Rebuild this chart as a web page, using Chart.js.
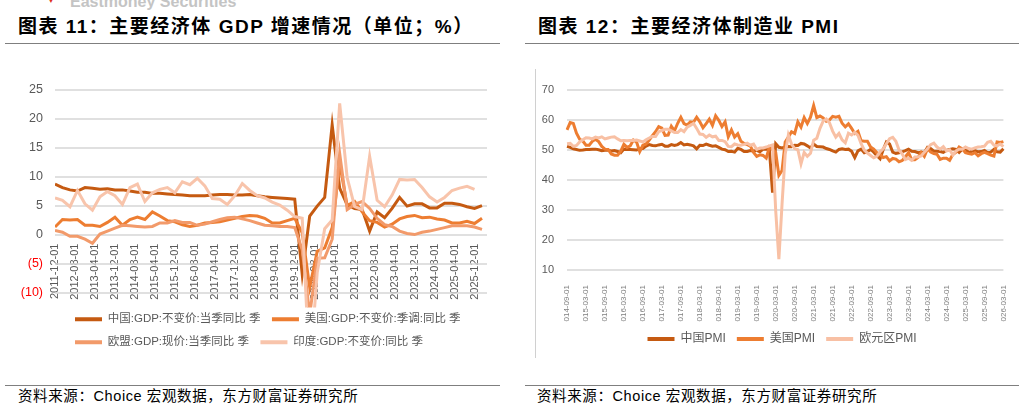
<!DOCTYPE html>
<html>
<head>
<meta charset="utf-8">
<script src="https://cdn.jsdelivr.net/npm/chart.js@4.4.1/dist/chart.umd.min.js"></script>
<style>
  html, body { margin: 0; padding: 0; background: #fff; }
  body { width: 1025px; height: 408px; position: relative; overflow: hidden;
         font-family: "Liberation Sans", "Noto Sans CJK SC", sans-serif; }
  .abs { position: absolute; }
  .title { font-size: 19px; font-weight: bold; color: #000; line-height: 24px; letter-spacing: 1.5px; white-space: nowrap; }
  .rule { height: 0; border-top: 1.5px solid #7f7f7f; }
  .source { font-size: 14.5px; color: #000; line-height: 18px; letter-spacing: 0.6px; white-space: nowrap; }
</style>
</head>
<body>
<div class="abs" style="left:47px;top:-3px;color:#e0301e;font-size:8px;line-height:8px;">▼</div>
<div class="abs" style="left:70px;top:-6px;font-size:16px;font-weight:bold;color:#c4c4c4;line-height:16px;">Eastmoney Securities</div>

<div class="abs title" style="left:18px;top:15px;">图表 11：主要经济体 GDP 增速情况（单位；%）</div>
<div class="abs rule" style="left:5px;top:43px;width:495px;"></div>
<div class="abs title" style="left:538px;top:15px;">图表 12：主要经济体制造业 PMI</div>
<div class="abs rule" style="left:525px;top:43px;width:494px;"></div>

<div class="abs" style="left:535px;top:69px;width:0;height:289px;border-left:1px solid #d0d0d0;"></div>

<canvas id="gdp" class="abs" width="505" height="290" style="left:0;top:70px;"></canvas>
<canvas id="pmi" class="abs" width="480" height="290" style="left:540px;top:70px;"></canvas>

<div class="abs rule" style="left:5px;top:385px;width:495px;"></div>
<div class="abs source" style="left:18px;top:387px;">资料来源：Choice 宏观数据，东方财富证券研究所</div>
<div class="abs rule" style="left:525px;top:385px;width:494px;"></div>
<div class="abs source" style="left:537px;top:387px;">资料来源：Choice 宏观数据，东方财富证券研究所</div>

<script>
// ---- categories ----
function monthLabels(year, month, count, step) {
  const out = [];
  for (let i = 0; i < count; i++) {
    const t = (month - 1) + i * step;
    const yy = year + Math.floor(t / 12);
    const mm = t % 12 + 1;
    out.push(yy + '-' + String(mm).padStart(2, '0') + '-01');
  }
  return out;
}
const gdpMonths = monthLabels(2011, 12, 174, 1);   // axis, 2011-12 .. 2026-05
const gdpQuarters = monthLabels(2011, 12, 58, 3);  // data dates, 2011-12 .. 2026-03
const pmiMonths = monthLabels(2014, 9, 139, 1);    // 2014-09 .. 2026-03

// ---- GDP growth, quarterly (%) ----
const gdpChina = [8.7,
  8.1, 7.7, 7.5, 8.1,  8.0, 7.8, 7.9, 7.7,  7.7, 7.5, 7.3, 7.3,  7.1, 7.1, 7.0, 6.9,
  6.8, 6.7, 6.7, 6.7,  6.8, 6.9, 6.9, 6.8,  6.8, 6.9, 6.7, 6.5,  6.4, 6.3, 6.2, 6.1,
  -6.8, 3.2, 4.9, 6.4,  18.9, 8.0, 5.1, 4.5,  4.3, 0.6, 3.9, 2.9,  4.5, 6.4, 4.9, 5.3,
  5.3, 4.6, 4.6, 5.4,  5.4, 5.2, 4.8, 4.5,  5.0];
const gdpUS = [1.3,
  2.6, 2.5, 2.6, 1.6,  1.6, 1.4, 2.1, 3.0,  1.6, 2.6, 3.0, 2.6,  3.9, 3.2, 2.4, 2.2,
  1.7, 1.4, 1.6, 2.0,  2.1, 2.2, 2.5, 2.8,  3.1, 3.3, 3.2, 2.8,  2.0, 2.0, 2.4, 2.8,
  0.3, -9.1, -2.9, -2.3,  1.2, 12.2, 5.0, 5.7,  3.9, 2.4, 2.1, 1.3,  1.8, 2.7, 3.1, 3.3,
  2.9, 3.0, 2.7, 2.5,  2.0, 2.0, 2.3, 1.9,  2.8];
const gdpEU = [0.7,
  0.4, -0.3, -0.3, -0.8,  -1.5, 0.1, 0.6, 1.1,  1.6, 1.5, 1.4, 1.3,  1.4, 2.0, 2.0, 2.4,
  2.1, 2.1, 1.6, 1.8,  2.2, 2.6, 2.9, 3.0,  2.7, 2.4, 2.0, 1.6,  1.5, 1.4, 1.4, 1.2,
  -2.6, -13.8, -4.1, -4.0,  -0.8, 14.0, 4.3, 5.2,  5.7, 4.5, 2.8, 1.7,  1.4, 0.6, 0.2, 0.0,
  0.4, 0.6, 0.9, 1.2,  1.5, 1.5, 1.5, 1.3,  0.9];
const gdpIndia = [6.3,
  5.9, 4.8, 7.6, 5.3,  4.2, 6.5, 7.4, 6.7,  5.2, 8.1, 8.7, 5.7,  7.2, 7.8, 8.1, 7.2,
  9.1, 8.6, 9.7, 8.4,  6.2, 6.1, 5.2, 6.7,  8.8, 7.6, 6.7, 6.3,  5.6, 5.1, 4.2, 3.1,
  2.8, -23.9, -6.6, 1.0,  2.5, 22.6, 9.8, 4.8,  4.3, 13.5, 5.9, 4.8,  6.8, 9.5, 9.4, 9.5,
  8.1, 6.5, 5.6, 6.4,  7.6, 8.0, 8.3, 7.8];

// ---- manufacturing PMI, monthly ----
const pmiChina = [51.1, 50.8, 50.3, 50.1,
  49.8, 49.9, 50.1, 50.1, 50.2, 50.2, 50.0, 49.7, 49.8, 49.8, 49.6, 49.7,
  49.4, 49.0, 50.2, 50.1, 50.1, 50.0, 49.9, 50.4, 50.4, 51.2, 51.7, 51.4,
  51.3, 51.6, 51.8, 51.2, 51.2, 51.7, 51.4, 51.7, 52.4, 51.6, 51.8, 51.6,
  51.3, 50.3, 51.5, 51.4, 51.9, 51.5, 51.2, 51.3, 50.8, 50.2, 50.0, 49.4,
  49.5, 49.2, 50.5, 50.1, 49.4, 49.4, 49.7, 49.5, 49.8, 49.3, 50.2, 50.2,
  50.0, 35.7, 52.0, 50.8, 50.6, 50.9, 51.1, 51.0, 51.5, 51.4, 52.1, 51.9,
  51.3, 50.6, 51.9, 51.1, 51.0, 50.9, 50.4, 50.1, 49.6, 49.2, 50.1, 50.3,
  50.1, 50.2, 49.5, 47.4, 49.6, 50.2, 49.0, 49.4, 50.1, 49.2, 48.0, 47.0,
  50.1, 52.6, 51.9, 49.2, 48.8, 49.0, 49.3, 49.7, 50.2, 49.5, 49.4, 49.0,
  49.2, 49.1, 50.8, 50.4, 49.5, 49.5, 49.4, 49.1, 49.8, 50.1, 50.3, 50.1,
  49.1, 50.2, 50.5, 49.0, 49.5, 49.7, 49.3, 49.4, 49.8, 49.0, 49.2, 50.1,
  49.3, 49.2, 50.3];
const pmiUS = [56.6, 59.0, 58.7, 55.5,
  53.5, 52.9, 51.5, 51.5, 52.8, 53.5, 52.7, 51.1, 50.2, 50.1, 48.6, 48.2,
  48.2, 49.5, 51.8, 50.8, 51.3, 53.2, 52.6, 49.4, 51.5, 51.9, 53.2, 54.7,
  56.0, 57.7, 57.2, 54.8, 54.9, 57.8, 56.3, 58.8, 60.8, 58.7, 58.2, 59.3,
  59.1, 60.8, 59.3, 57.3, 58.7, 60.2, 58.1, 61.3, 59.8, 57.7, 59.3, 54.3,
  56.6, 54.2, 55.3, 52.8, 52.1, 51.7, 51.2, 49.1, 47.8, 48.3, 48.1, 47.2,
  50.9, 50.1, 49.1, 41.5, 43.1, 52.6, 54.2, 56.0, 55.4, 59.3, 57.5, 60.7,
  58.7, 60.8, 64.7, 60.7, 61.2, 60.6, 59.5, 59.9, 61.1, 60.8, 61.1, 58.8,
  57.6, 58.6, 57.1, 55.4, 56.1, 53.0, 52.8, 52.8, 50.9, 50.2, 49.0, 48.4,
  47.4, 47.7, 46.3, 47.1, 46.9, 46.0, 46.4, 47.6, 49.0, 46.7, 46.7, 47.4,
  49.1, 47.8, 50.3, 49.2, 48.7, 48.5, 46.8, 47.2, 47.2, 46.5, 48.4, 49.2,
  50.9, 50.3, 49.0, 48.7, 48.5, 49.0, 48.0, 48.7, 49.1, 48.7, 48.2, 47.9,
  52.6, 52.4, 52.7];
const pmiEuro = [52.0, 52.1, 51.1, 51.4,
  52.6, 53.3, 54.0, 53.9, 53.6, 54.2, 53.9, 54.3, 53.6, 53.9, 54.2, 54.3,
  53.6, 53.0, 53.1, 53.0, 53.1, 53.1, 53.2, 52.9, 52.6, 53.3, 53.9, 54.4,
  54.4, 56.0, 56.4, 56.8, 56.8, 56.3, 55.7, 55.7, 56.7, 56.0, 57.5, 58.1,
  58.8, 57.1, 55.2, 55.1, 54.1, 54.9, 54.3, 54.5, 53.1, 53.1, 52.7, 51.1,
  51.0, 51.9, 51.6, 51.5, 51.8, 52.2, 51.5, 51.9, 50.1, 50.6, 50.6, 50.9,
  51.3, 51.6, 29.7, 13.6, 31.9, 48.5, 54.9, 51.9, 50.4, 50.0, 45.3, 49.1,
  47.8, 48.8, 53.2, 53.8, 57.1, 59.5, 60.2, 59.0, 56.2, 54.2, 55.4, 53.3,
  52.3, 55.5, 54.9, 55.8, 54.8, 52.0, 49.9, 48.9, 48.1, 47.3, 47.8, 49.3,
  50.3, 52.0, 53.7, 54.1, 52.8, 49.9, 48.6, 46.7, 47.2, 46.5, 47.6, 47.6,
  47.9, 49.2, 50.3, 51.7, 52.2, 50.9, 50.2, 51.0, 49.6, 50.0, 48.3, 49.6,
  50.2, 50.2, 50.9, 50.4, 50.2, 50.6, 50.9, 51.0, 51.2, 52.5, 52.8, 51.5,
  51.3, 51.9, 51.0];

const C_CN = '#c55a11', C_US = '#ed7d31', C_EU = '#f29a6a', C_IN = '#f8c4ab', C_EZ = '#f8c0a4';
const GRID = '#d6d6d6', TICK = '#595959';
Chart.defaults.font.family = '"Liberation Sans", "Noto Sans CJK SC", sans-serif';

const legendLabels = (size, padding) => ({
  boxWidth: 27, boxHeight: 4, padding: padding, color: TICK, font: { size: size },
  sort: (a, b) => a.datasetIndex - b.datasetIndex,
  generateLabels: chart => Chart.defaults.plugins.legend.labels.generateLabels(chart)
    .map(item => Object.assign(item, { lineWidth: 0 }))
});

// moves the legend box sideways without touching the plot area
const legendShift = {
  id: 'legendShift',
  beforeDraw(chart, args, opts) {
    const lg = chart.legend;
    if (!lg || opts.left === undefined) return;
    const w = lg.right - lg.left;
    lg.left = opts.left;
    lg.right = opts.left + w;
  }
};

// horizontal grid at every y tick, drawn just under the lines
const yGrid = {
  id: 'yGrid',
  beforeDatasetsDraw(chart) {
    const { ctx, chartArea: area, scales: { y } } = chart;
    ctx.save();
    ctx.strokeStyle = GRID;
    ctx.lineWidth = 1.5;
    y.ticks.forEach(t => {
      const py = Math.round(y.getPixelForValue(t.value));
      ctx.beginPath();
      ctx.moveTo(area.left, py);
      ctx.lineTo(area.right, py);
      ctx.stroke();
    });
    ctx.restore();
  }
};

// built-in y grid kept on (labels lay out as before) but painted invisible
const hiddenGrid = { display: true, drawOnChartArea: true, color: 'rgba(0,0,0,0)', lineWidth: 1, drawTicks: false };

function quarterSeries(label, values, color, order) {
  return {
    label: label, order: order, borderColor: color, backgroundColor: color,
    clip: { left: 0, top: 0, right: 0, bottom: 15 },
    data: values.map((v, i) => ({ x: gdpQuarters[i], y: v }))
  };
}

new Chart(document.getElementById('gdp'), {
  type: 'line',
  plugins: [legendShift, yGrid],
  data: {
    labels: gdpMonths,
    datasets: [
      quarterSeries('中国:GDP:不变价:当季同比 季', gdpChina, C_CN, 3),
      quarterSeries('美国:GDP:不变价:季调:同比 季', gdpUS, C_US, 2),
      quarterSeries('欧盟:GDP:现价:当季同比 季', gdpEU, C_EU, 1),
      quarterSeries('印度:GDP:不变价:同比 季', gdpIndia, C_IN, 0)
    ]
  },
  options: {
    responsive: false,
    animation: false,
    layout: { padding: { left: 15, right: 18, top: 14, bottom: 2 } },
    elements: { point: { radius: 0 }, line: { borderWidth: 3, tension: 0 } },
    scales: {
      x: {
        position: { y: 0 },
        grid: { display: false },
        border: { display: false },
        ticks: {
          autoSkip: false, minRotation: 90, maxRotation: 90, padding: 1,
          color: TICK, font: { size: 11 },
          callback: function (value, index) {
            return index % 8 === 0 ? this.getLabelForValue(value) : '';
          }
        }
      },
      gap: {
        type: 'category', position: 'bottom',
        grid: { display: false }, border: { display: false }, ticks: { display: false },
        afterFit: s => { s.height = 9.4; }
      },
      y: {
        min: -10, max: 25,
        afterFit: s => { s.width = 40; },
        grid: hiddenGrid,
        border: { display: false },
        ticks: {
          stepSize: 5, padding: 12, font: { size: 12.5 },
          color: c => (c.tick.value < 0 ? '#ff0000' : TICK),
          callback: v => (v < 0 ? '(' + (-v) + ')' : v)
        }
      }
    },
    plugins: {
      legend: { position: 'bottom', align: 'start', labels: legendLabels(11.5, 11.5) },
      legendShift: { left: 63.5 },
      tooltip: { enabled: false }
    }
  }
});

new Chart(document.getElementById('pmi'), {
  type: 'line',
  plugins: [legendShift, yGrid],
  data: {
    labels: pmiMonths,
    datasets: [
      { label: '中国PMI', data: pmiChina, borderColor: C_CN, backgroundColor: C_CN, order: 2 },
      { label: '美国PMI', data: pmiUS, borderColor: C_US, backgroundColor: C_US, order: 1 },
      { label: '欧元区PMI', data: pmiEuro, borderColor: C_EZ, backgroundColor: C_EZ, order: 0 }
    ]
  },
  options: {
    responsive: false,
    animation: false,
    layout: { padding: { left: 0, right: 12, top: 14, bottom: 5 } },
    elements: { point: { radius: 0 }, line: { borderWidth: 3, tension: 0 } },
    scales: {
      x: {
        grid: { display: false },
        border: { display: false },
        afterFit: s => { s.height = 52; },
        ticks: {
          autoSkip: false, minRotation: 90, maxRotation: 90, padding: 7,
          color: '#7f7f7f', font: { size: 8 },
          callback: function (value, index) {
            return index % 6 === 0 ? this.getLabelForValue(value) : '';
          }
        }
      },
      y: {
        min: 10, max: 70,
        afterFit: s => { s.width = 27; },
        grid: hiddenGrid,
        border: { display: false },
        ticks: { stepSize: 10, padding: 13, color: TICK, font: { size: 11 } }
      }
    },
    plugins: {
      legend: { position: 'bottom', labels: legendLabels(12, 11) },
      legendShift: { left: 8 },
      tooltip: { enabled: false }
    }
  }
});
</script>
</body>
</html>
